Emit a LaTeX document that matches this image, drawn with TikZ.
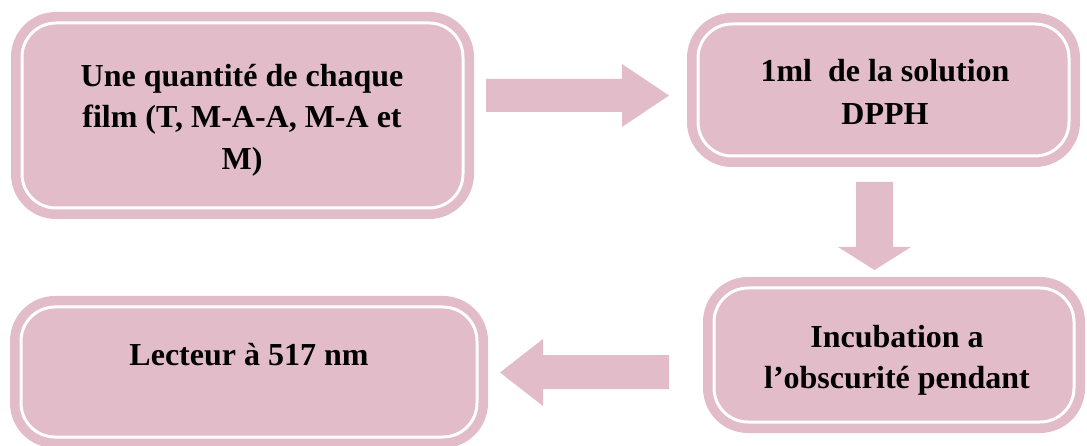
\documentclass[tikz,border=0pt]{standalone}
\usepackage{fontspec}
\setmainfont[Ligatures=NoCommon]{Liberation Serif}
\definecolor{rose}{HTML}{E2BCC8}
\begin{document}
\begin{tikzpicture}[x=1pt,y=-1pt,
  stage/.style={draw=white, line width=3pt, fill=rose, rounded corners=34pt,
                preaction={draw=rose, line width=22pt}, inner sep=0pt},
  lbl/.style={anchor=base, inner sep=0pt, font=\fontsize{32}{38}\selectfont\bfseries},
  flow/.style={fill=rose, draw=none}]
\useasboundingbox (0,0) rectangle (1087,446);

% process boxes
\node[stage, minimum width=441pt, minimum height=185pt] (film)   at (242.5,115.5) {};
\node[stage, minimum width=371pt, minimum height=132pt] (dpph)   at (883.5,90) {};
\node[stage, minimum width=360pt, minimum height=134pt] (incub)  at (894,355) {};
\node[stage, minimum width=456pt, minimum height=130pt] (lect)   at (249,372) {};

% labels
\node[lbl] (film1) at (242,87)  {Une quantité de chaque};
\node[lbl] (film2) at (242,128) {film (T, M-A-A, M-A et};
\node[lbl] (film3) at (242,170) {M)};
\node[lbl] (dpph1) at (885,82)  {1ml\ \ de la solution};
\node[lbl] (dpph2) at (885,125) {DPPH};
\node[lbl] (incub1) at (897,348) {Incubation a};
\node[lbl] (incub2) at (897,388) {l’obscurité pendant};
\node[lbl] (lect1) at (249,365) {Lecteur à 517 nm};

% block arrows between the steps
\fill[flow] (486,79) -- (622,79) -- (622,64) -- (669,95.5) -- (622,127)
            -- (622,112) -- (486,112) -- cycle;
\fill[flow] (856,182) -- (893,182) -- (893,247) -- (911,247) -- (874.5,270)
            -- (838,247) -- (856,247) -- cycle;
\fill[flow] (669,355) -- (543,355) -- (543,339) -- (500,372.5) -- (543,406)
            -- (543,389) -- (669,389) -- cycle;
\end{tikzpicture}
\end{document}
